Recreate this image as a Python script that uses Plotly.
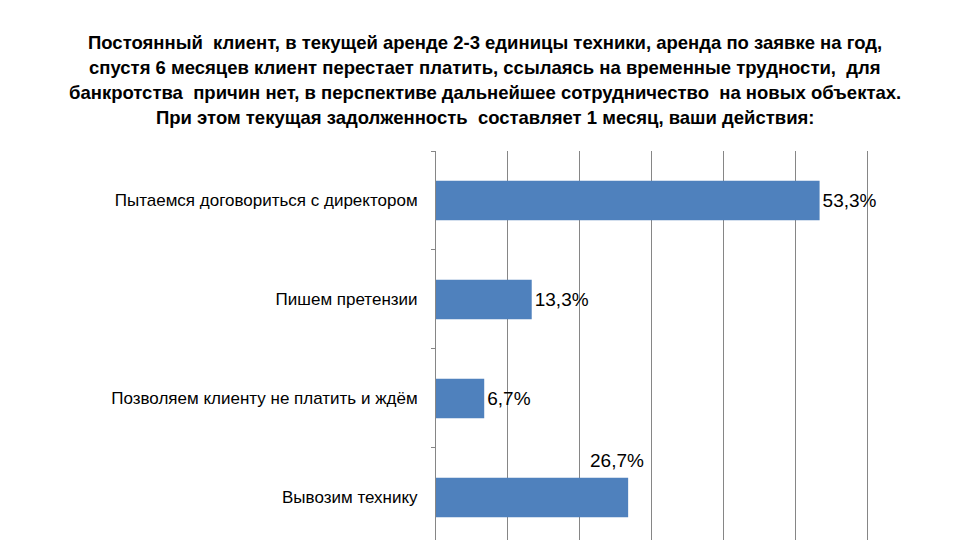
import plotly.graph_objects as go

# survey answers, top to bottom
categories = [
    "Пытаемся договориться с директором",
    "Пишем претензии",
    "Позволяем клиенту не платить и ждём",
    "Вывозим технику",
]
values = [53.3, 13.3, 6.7, 26.7]

title_lines = [
    "Постоянный  клиент, в текущей аренде 2-3 единицы техники, аренда по заявке на год,",
    "спустя 6 месяцев клиент перестает платить, ссылаясь на временные трудности,  для",
    "банкротства  причин нет, в перспективе дальнейшее сотрудничество  на новых объектах.",
    "При этом текущая задолженность  составляет 1 месяц, ваши действия:",
]

BAR = "#4F81BD"
GRID = "#868686"

# last label sits above the bar in the original, the others to the right
label_above = [False, False, False, True]
texts = [("" if a else f"{v:.1f}%".replace(".", ",")) for v, a in zip(values, label_above)]

fig = go.Figure()
fig.add_trace(go.Bar(
    x=values,
    y=categories,
    orientation="h",
    marker=dict(color=BAR, line=dict(width=0)),
    width=0.4,
    text=texts,
    textposition="outside",
    textfont=dict(family="Liberation Sans", size=19, color="#000000"),
    cliponaxis=False,
    constraintext="none",
))

for cat, v, a in zip(categories, values, label_above):
    if a:
        fig.add_annotation(
            x=v, y=cat, xref="x", yref="y",
            text=f"{v:.1f}%".replace(".", ","),
            showarrow=False, xanchor="center", yanchor="middle",
            xshift=-11, yshift=37,
            font=dict(family="Liberation Sans", size=19, color="#000000"),
        )

# title as separate lines so spacing can follow the original
for i, line in enumerate(title_lines):
    fig.add_annotation(
        x=0.1116, y=1, xref="paper", yref="paper",
        text=f"<b>{line}</b>", showarrow=False,
        xanchor="center", yanchor="middle",
        yshift=109 - i * 25.3,
        font=dict(family="Liberation Sans Narrow, Liberation Sans", size=18.5, color="#000000"),
    )

# run a bit past 60 so the last grid line (60) is not dropped at the edge
fig.update_xaxes(
    range=[0, 61], dtick=10,
    showticklabels=False, ticks="",
    showgrid=True, gridcolor=GRID, gridwidth=1,
    zeroline=False, showline=False,
)
fig.update_yaxes(
    categoryorder="array", categoryarray=categories,
    range=[3.43, -0.5],
    tickson="boundaries", ticks="outside", ticklen=4, tickcolor=GRID,
    showline=True, linecolor=GRID, linewidth=1,
    showgrid=False, zeroline=False,
    ticklabelstandoff=14,
    tickfont=dict(family="Liberation Sans", size=17, color="#000000"),
)
# page body adds an 8px offset, so the figure is a bit smaller than the window
fig.update_layout(
    width=952, height=532,
    margin=dict(l=428, r=85, t=143, b=0, autoexpand=False),
    paper_bgcolor="white", plot_bgcolor="white",
    showlegend=False,
)

fig.write_html("out.html")
